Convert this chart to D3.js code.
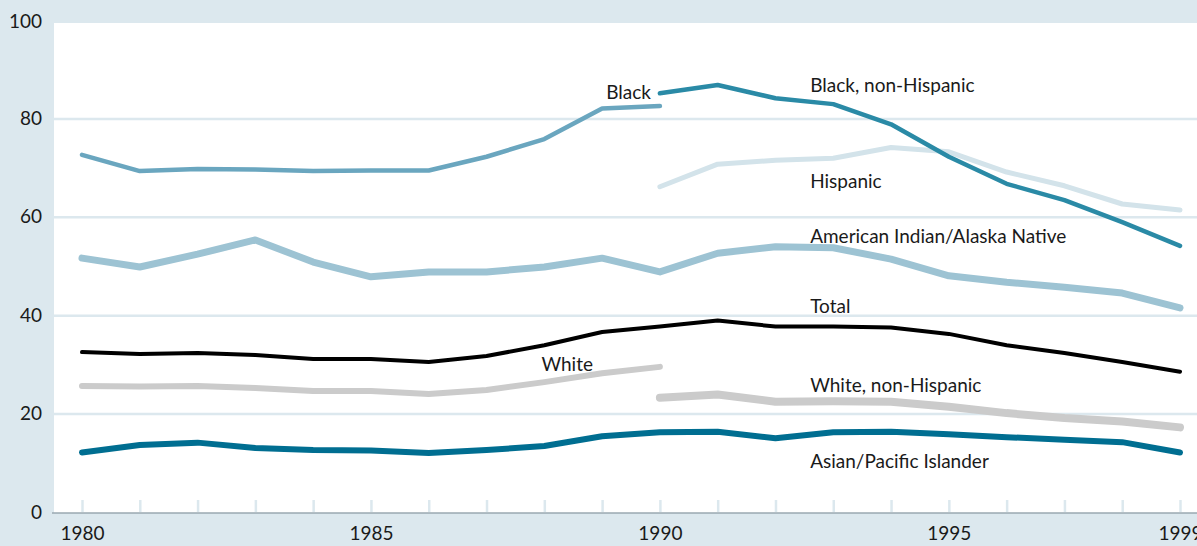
<!DOCTYPE html>
<html>
<head>
<meta charset="utf-8">
<script src="https://cdn.jsdelivr.net/npm/d3@7"></script>
<style>
  body { margin: 0; background: #dce8ee; }
  svg { display: block; font-family: Lato, "DejaVu Sans", sans-serif; }
</style>
</head>
<body>
<div id="chart"></div>
<script>
// chart data
var years = d3.range(1980, 2000);
var yTicks = [0, 20, 40, 60, 80, 100];
var xLabels = [1980, 1985, 1990, 1995, 1999];

var black = [72.6, 69.3, 69.7, 69.6, 69.3, 69.4, 69.4, 72.2, 75.8, 82.0, 82.5,
             null, null, null, null, null, null, null, null, null];
var blackNonHisp = [null, null, null, null, null, null, null, null, null, null, 85.1,
                    86.8, 84.1, 82.9, 78.8, 72.2, 66.7, 63.4, 58.9, 54.1];
var hispanic = [null, null, null, null, null, null, null, null, null, null, 66.1,
                70.7, 71.5, 71.9, 74.1, 73.2, 69.1, 66.3, 62.6, 61.4];
var amIndian = [51.6, 49.8, 52.4, 55.3, 50.8, 47.8, 48.8, 48.8, 49.8, 51.6, 48.8,
                52.6, 53.9, 53.7, 51.4, 48.0, 46.7, 45.7, 44.5, 41.5];
var total = [32.5, 32.1, 32.3, 31.9, 31.1, 31.1, 30.5, 31.7, 33.9, 36.6, 37.7,
             38.9, 37.7, 37.7, 37.5, 36.2, 33.9, 32.3, 30.5, 28.5];
var white = [25.6, 25.5, 25.6, 25.2, 24.6, 24.6, 24.0, 24.8, 26.4, 28.2, 29.5,
             null, null, null, null, null, null, null, null, null];
var whiteNonHisp = [null, null, null, null, null, null, null, null, null, null, 23.2,
                    23.9, 22.4, 22.5, 22.4, 21.4, 20.1, 19.1, 18.4, 17.2];
var asian = [12.1, 13.6, 14.1, 13.0, 12.6, 12.5, 12.0, 12.6, 13.4, 15.4, 16.2,
             16.3, 15.0, 16.2, 16.3, 15.8, 15.2, 14.7, 14.2, 12.1];

// series styles, drawn back to front
var series = [
  {name: "Hispanic", values: hispanic, color: "#d3e3ea", width: 5},
  {name: "American Indian/Alaska Native", values: amIndian, color: "#9dc3d3", width: 7},
  {name: "White", values: white, color: "#cbcbcb", width: 6},
  {name: "White, non-Hispanic", values: whiteNonHisp, color: "#cbcbcb", width: 8},
  {name: "Black", values: black, color: "#6aa6bf", width: 4.5},
  {name: "Black, non-Hispanic", values: blackNonHisp, color: "#2a8aa6", width: 4.5},
  {name: "Total", values: total, color: "#000000", width: 4},
  {name: "Asian/Pacific Islander", values: asian, color: "#006e91", width: 6}
];

// label anchors (year, value)
var labels = [
  {text: "Black", year: 1989.07, value: 84.0},
  {text: "Black, non-Hispanic", year: 1992.6, value: 85.4},
  {text: "Hispanic", year: 1992.6, value: 65.8},
  {text: "American Indian/Alaska Native", year: 1992.6, value: 54.6},
  {text: "Total", year: 1992.6, value: 40.4},
  {text: "White", year: 1987.95, value: 28.6},
  {text: "White, non-Hispanic", year: 1992.6, value: 24.4},
  {text: "Asian/Pacific Islander", year: 1992.6, value: 8.9}
];

var W = 1197, H = 546;
var plotLeft = 54, plotTop = 23, axisY = 513;
var fontSize = "19px";

var x = d3.scaleLinear().domain([1980, 1999]).range([82, 1180]);
var y = d3.scaleLinear().domain([0, 100]).range([512, 20]);

var svg = d3.select("#chart").append("svg")
    .attr("width", W)
    .attr("height", H);

svg.append("rect")
    .attr("width", W).attr("height", H)
    .attr("fill", "#dce8ee");

// white plot area
svg.append("rect")
    .attr("x", plotLeft).attr("y", plotTop)
    .attr("width", W - plotLeft).attr("height", axisY - plotTop)
    .attr("fill", "#ffffff");

// grid lines
var grid = svg.append("g")
    .attr("transform", "translate(" + plotLeft + ",0)")
    .call(d3.axisRight(y).tickValues([20, 40, 60, 80]).tickSize(W - plotLeft).tickFormat(""));
grid.select(".domain").remove();
grid.selectAll("line").attr("stroke", "#dce8ee").attr("stroke-width", 2.5);

// year tick marks
var xt = svg.append("g")
    .attr("transform", "translate(0," + (axisY - 1) + ")")
    .call(d3.axisTop(x).tickValues(years).tickSize(12).tickFormat(""));
xt.select(".domain").remove();
xt.selectAll("line").attr("stroke", "#dce8ee").attr("stroke-width", 2.5);

// axis line
svg.append("line")
    .attr("x1", plotLeft - 2).attr("x2", W)
    .attr("y1", axisY).attr("y2", axisY)
    .attr("stroke", "#9aa8b0").attr("stroke-width", 1.5);

// x labels
var xa = svg.append("g")
    .attr("transform", "translate(0," + axisY + ")")
    .call(d3.axisBottom(x).tickValues(xLabels).tickSize(0).tickPadding(14).tickFormat(d3.format("d")));
xa.select(".domain").remove();
xa.selectAll("text")
    .attr("fill", "#1a1a1a")
    .style("font-size", fontSize)
    .style("font-family", "Lato, 'DejaVu Sans', sans-serif");

// y labels
var ya = svg.append("g")
    .attr("transform", "translate(" + plotLeft + ",0)")
    .call(d3.axisLeft(y).tickValues(yTicks).tickSize(0).tickPadding(12));
ya.select(".domain").remove();
ya.selectAll("text")
    .attr("fill", "#1a1a1a")
    .style("font-size", fontSize)
    .style("font-family", "Lato, 'DejaVu Sans', sans-serif");
ya.selectAll(".tick").filter(function(d) { return d === 100; })
    .attr("transform", "translate(0," + (plotTop - 1) + ")");

// lines
var line = d3.line()
    .defined(function(d) { return d.v != null; })
    .x(function(d) { return x(d.year); })
    .y(function(d) { return y(d.v); });

svg.append("g").selectAll("path")
    .data(series)
    .enter().append("path")
    .attr("d", function(s) {
      return line(years.map(function(yr, i) { return {year: yr, v: s.values[i]}; }));
    })
    .attr("fill", "none")
    .attr("stroke", function(s) { return s.color; })
    .attr("stroke-width", function(s) { return s.width; })
    .attr("stroke-linecap", "round")
    .attr("stroke-linejoin", "round");

// series labels
svg.append("g").selectAll("text")
    .data(labels)
    .enter().append("text")
    .attr("x", function(d) { return x(d.year); })
    .attr("y", function(d) { return y(d.value); })
    .attr("fill", "#1a1a1a")
    .style("font-size", fontSize)
    .text(function(d) { return d.text; });
</script>
</body>
</html>
